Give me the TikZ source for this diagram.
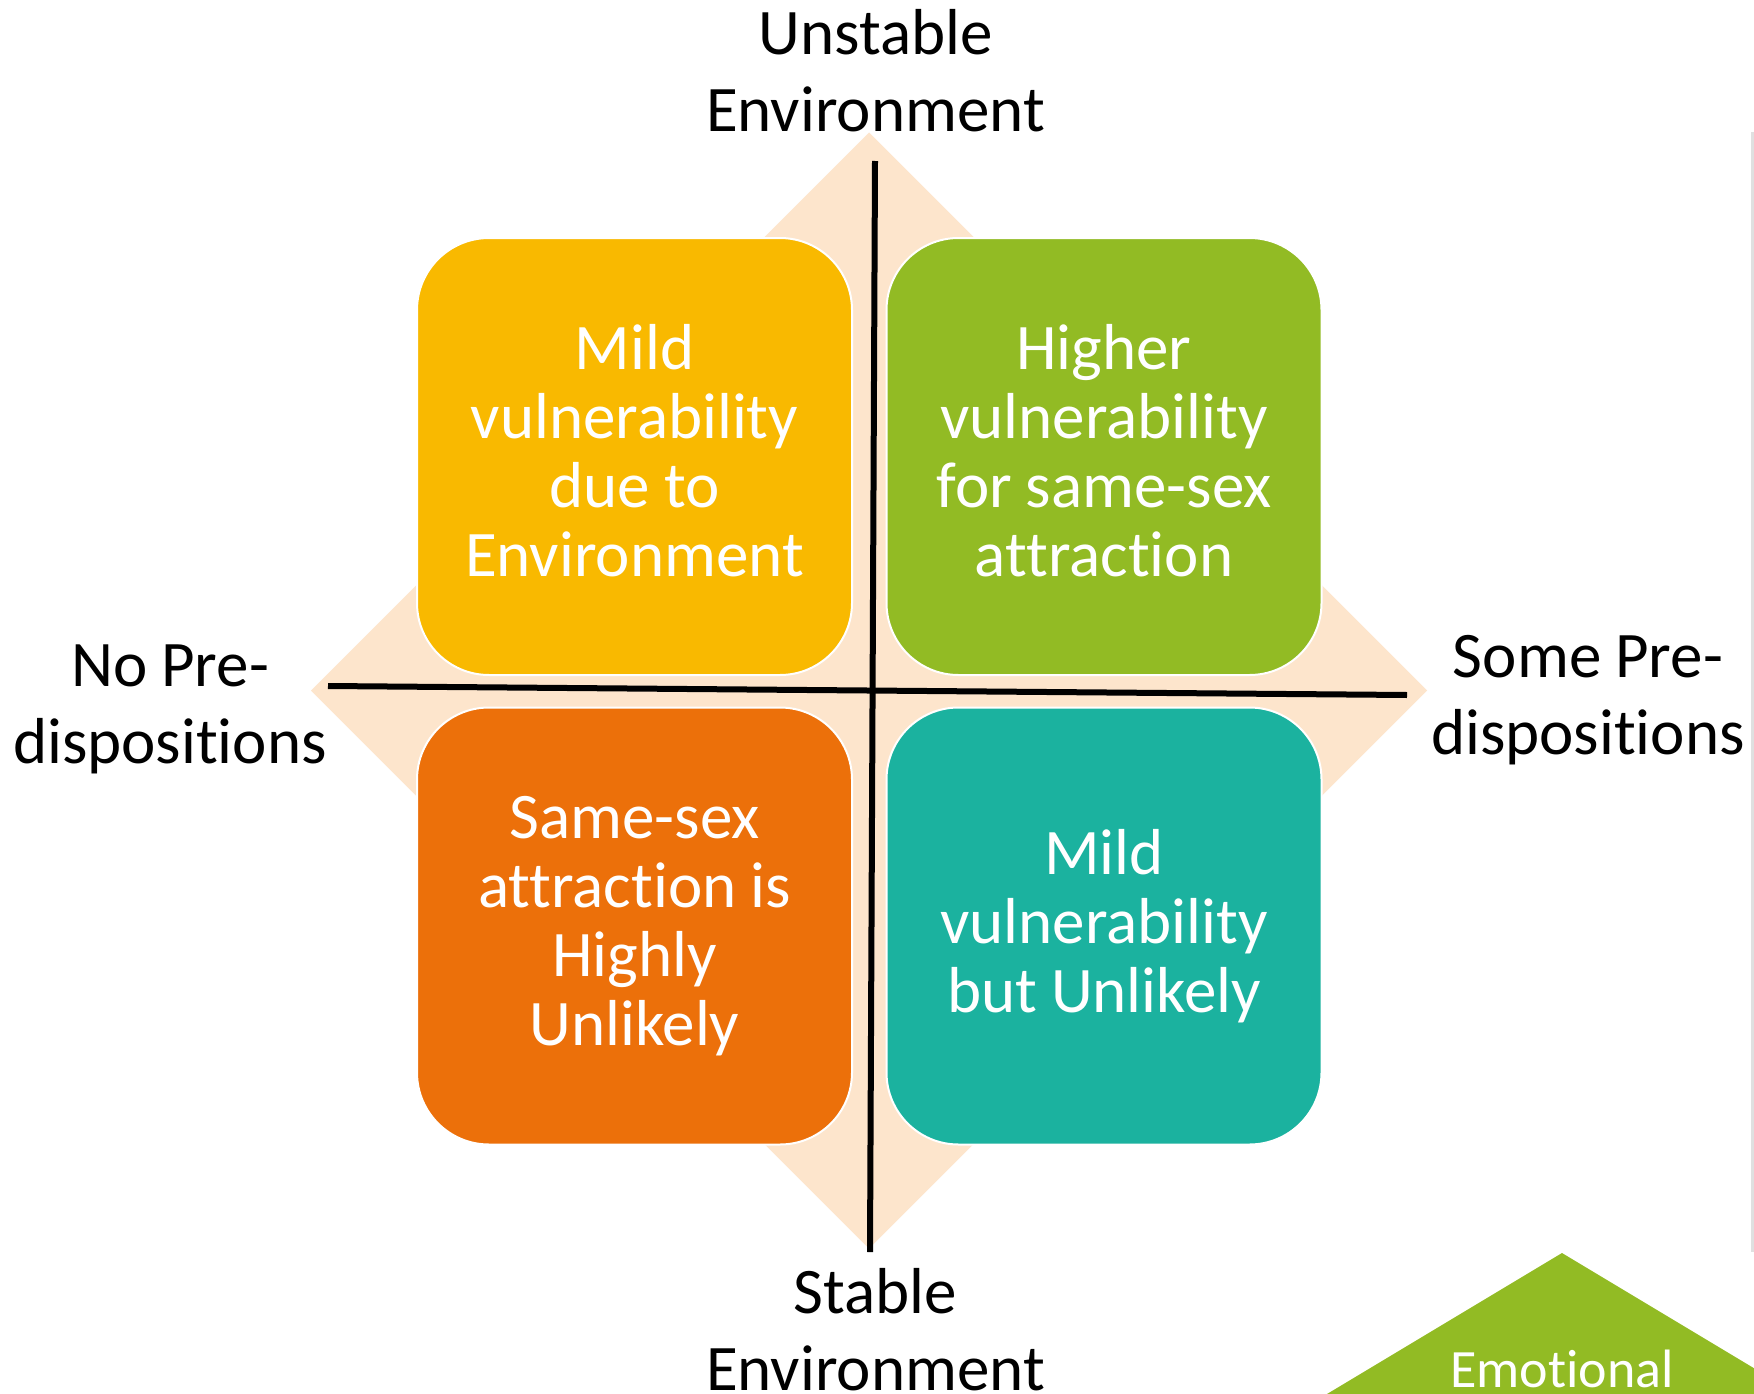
\documentclass[tikz,border=0pt]{standalone}
\usepackage{fontspec}
\setmainfont{Carlito}[Ligatures={NoCommon,NoContextual}]
\definecolor{peach}{HTML}{FDE5CC}
\definecolor{cyellow}{HTML}{F9B900}
\definecolor{cgreen}{HTML}{92BB24}
\definecolor{corange}{HTML}{EC700A}
\definecolor{cteal}{HTML}{1BB29F}
\definecolor{edgegray}{HTML}{E0E0E0}
\begin{document}
\begin{tikzpicture}[x=1pt,y=-1pt,
  quad/.style={draw=white, line width=2pt, rounded corners=72pt,
    minimum width=435pt, minimum height=437pt, inner sep=0pt,
    text=white, text width=420pt, align=flush center,
    font={\fontsize{65}{69}\selectfont\spaceskip=14pt\relax}},
  lab/.style={text=black, text width=400pt, align=flush center, inner sep=0pt,
    anchor=base, font={\fontsize{65}{77}\selectfont\spaceskip=14pt\relax}},
  axis/.style={line width=6pt, black}]
\fill[white] (0,0) rectangle (1754,1394);
\useasboundingbox (0,0) rectangle (1754,1394);
\clip (0,0) rectangle (1754,1394);
% background diamond
\fill[peach] (869,132.5) -- (1427,690.5) -- (869,1248.5) -- (311,690.5) -- cycle;
% right edge gray line
\draw[edgegray, line width=3pt] (1752.5,132) -- (1752.5,1252);
% quadrant boxes
\node[quad, fill=cyellow, text depth=219pt] (tl) at (634.5,456.5) {Mild\\vulnerability\\due to\\Environment};
\node[quad, fill=cgreen, text depth=219pt] (tr) at (1104,456.5) {Higher\\vulnerability\\for same-sex\\attraction};
\node[quad, fill=corange] (bl) at (634.5,926) {Same-sex\\attraction is\\Highly\\Unlikely};
\node[quad, fill=cteal] (br) at (1104,926) {Mild\\vulnerability\\but Unlikely};
% axes
\coordinate (vt) at (875,161);
\coordinate (vb) at (870,1252);
\coordinate (hl) at (328,686);
\coordinate (hr) at (1407,695);
\draw[axis] (vt) -- (vb);
\draw[axis] (hl) -- (hr);
% axis labels
\node[lab] (top) at (875.5,55) {Unstable\\Environment};
\node[lab] (bot) at (875.5,1313) {Stable\\Environment};
\node[lab] (left) at (170,686) {No Pre-\\dispositions};
\node[lab] (right) at (1588,677) {Some Pre-\\dispositions};
% bottom-right triangle
\fill[cgreen] (1562,1253) -- (1812,1403) -- (1312,1403) -- cycle;
\node[text=white, anchor=base, inner sep=0pt, font={\fontsize{54}{60}\selectfont}] (emo) at (1562,1387) {Emotional};
\end{tikzpicture}
\end{document}
